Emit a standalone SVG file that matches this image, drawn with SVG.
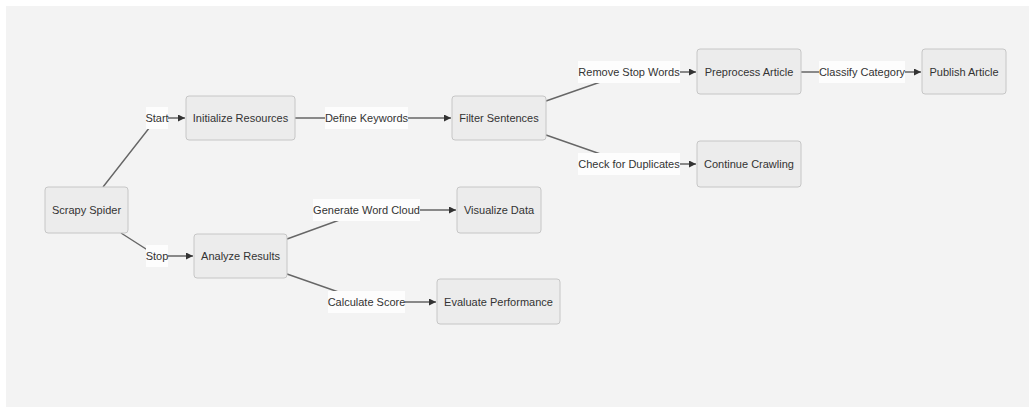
<svg xmlns="http://www.w3.org/2000/svg" width="1029" height="407" viewBox="0 0 1029 407">
<style>
.node rect{fill:#ececec;stroke:#c6c6c6;stroke-width:1}
.node text,.lbl text{font-family:"Liberation Sans",Arial,sans-serif;font-size:11px;fill:#333;text-anchor:middle;dominant-baseline:central}
.edge{fill:none;stroke:#666;stroke-width:1.4}
.lbl rect{fill:#fdfdfd;stroke:none}
</style>
<defs>
<marker id="arr" viewBox="0 0 10 10" refX="10" refY="5" markerWidth="7" markerHeight="7" markerUnits="userSpaceOnUse" orient="auto">
<path d="M0,0 L10,5 L0,10 z" fill="#333"/>
</marker>
</defs>
<rect x="6" y="6" width="1023" height="401" fill="#f3f3f3"/>
<g id="connectors">
<path class="edge" d="M103,187 L157,118 L185,118" marker-end="url(#arr)"/>
<path class="edge" d="M121,233 L157,256 L193,256" marker-end="url(#arr)"/>
<path class="edge" d="M295,118 L451,118" marker-end="url(#arr)"/>
<path class="edge" d="M546,101 L629,72 L696,72" marker-end="url(#arr)"/>
<path class="edge" d="M546,135 L629,164 L696,164" marker-end="url(#arr)"/>
<path class="edge" d="M801,72 L921,72" marker-end="url(#arr)"/>
<path class="edge" d="M287,239 L367,210 L456,210" marker-end="url(#arr)"/>
<path class="edge" d="M287,274 L367,302 L436,302" marker-end="url(#arr)"/>
<g class="lbl"><rect x="146" y="107" width="22" height="22"/><text x="157" y="118">Start</text></g>
<g class="lbl"><rect x="146" y="245" width="22" height="22"/><text x="157" y="256">Stop</text></g>
<g class="lbl"><rect x="325" y="107" width="83" height="22"/><text x="366.5" y="118">Define Keywords</text></g>
<g class="lbl"><rect x="578" y="61" width="102" height="22"/><text x="629" y="72">Remove Stop Words</text></g>
<g class="lbl"><rect x="578" y="153" width="102" height="22"/><text x="629" y="164">Check for Duplicates</text></g>
<g class="lbl"><rect x="819" y="61" width="86" height="22"/><text x="862" y="72">Classify Category</text></g>
<g class="lbl"><rect x="313" y="199" width="107" height="22"/><text x="366.5" y="210">Generate Word Cloud</text></g>
<g class="lbl"><rect x="328" y="291" width="77" height="22"/><text x="366.5" y="302">Calculate Score</text></g>
</g>
<g id="scrapy-spider" class="node"><rect x="45" y="187" width="83" height="46" rx="3"/><text x="86.5" y="210">Scrapy Spider</text></g>
<g id="initialize-resources" class="node"><rect x="186" y="96" width="109" height="44" rx="3"/><text x="240.5" y="118">Initialize Resources</text></g>
<g id="analyze-results" class="node"><rect x="194" y="234" width="93" height="44" rx="3"/><text x="240.5" y="256">Analyze Results</text></g>
<g id="filter-sentences" class="node"><rect x="452" y="96" width="94" height="44" rx="3"/><text x="499" y="118">Filter Sentences</text></g>
<g id="preprocess-article" class="node"><rect x="697" y="49" width="104" height="45" rx="3"/><text x="749" y="71.5">Preprocess Article</text></g>
<g id="publish-article" class="node"><rect x="922" y="49" width="84" height="45" rx="3"/><text x="964" y="71.5">Publish Article</text></g>
<g id="continue-crawling" class="node"><rect x="697" y="141" width="104" height="46" rx="3"/><text x="749" y="164">Continue Crawling</text></g>
<g id="visualize-data" class="node"><rect x="457" y="187" width="84" height="46" rx="3"/><text x="499" y="210">Visualize Data</text></g>
<g id="evaluate-performance" class="node"><rect x="437" y="279" width="123" height="45" rx="3"/><text x="498.5" y="301.5">Evaluate Performance</text></g>
</svg>
